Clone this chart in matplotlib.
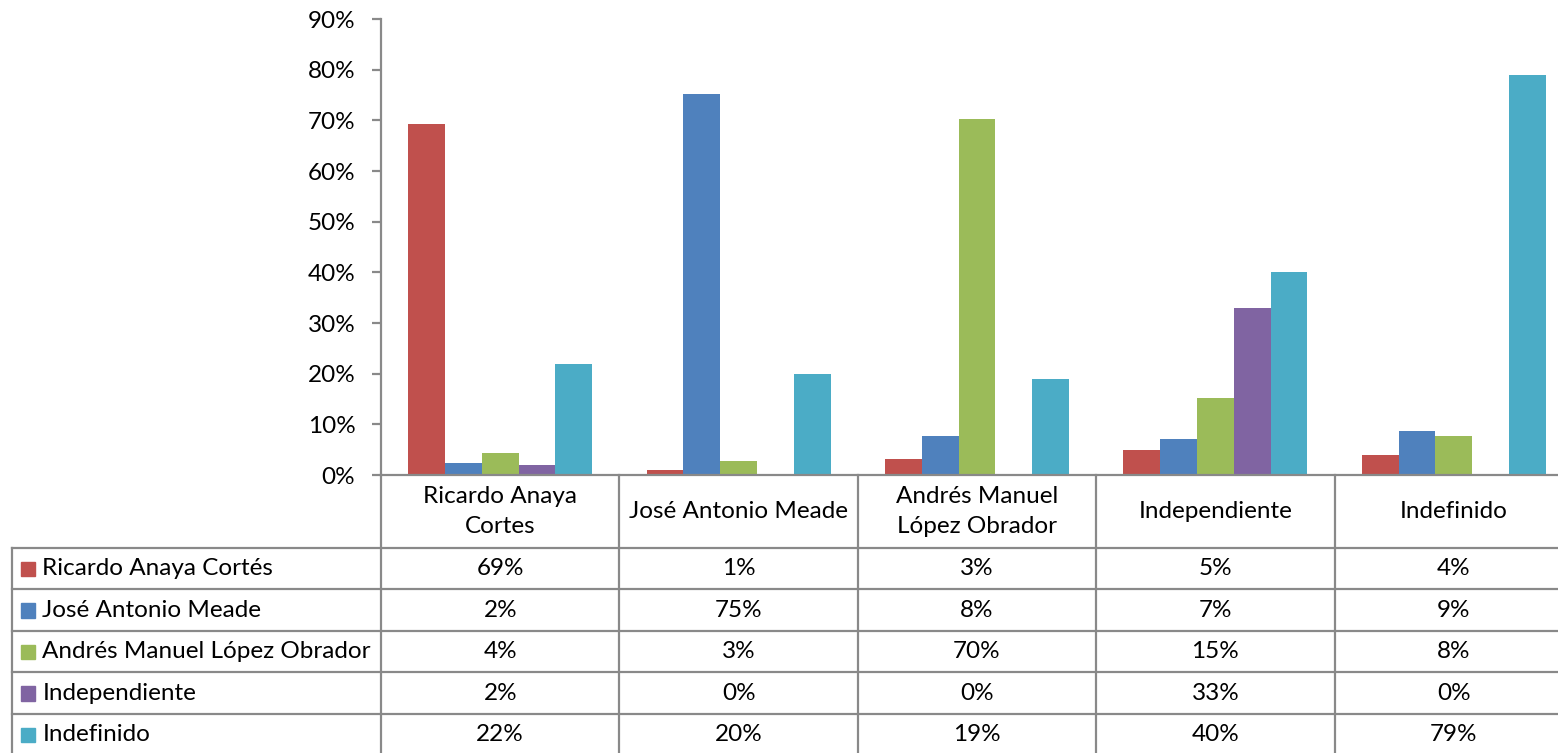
import matplotlib
matplotlib.use("Agg")
import matplotlib.pyplot as plt
import matplotlib.transforms as mtransforms
import numpy as np

plt.rcParams['font.family'] = ['Lato', 'DejaVu Sans']

categories = ["Ricardo Anaya\nCortes", "José Antonio Meade", "Andrés Manuel\nLópez Obrador",
              "Independiente", "Indefinido"]
series = ["Ricardo Anaya Cortés", "José Antonio Meade", "Andrés Manuel López Obrador",
          "Independiente", "Indefinido"]
colors = ["#C0504D", "#4F81BD", "#9BBB59", "#8064A2", "#4BACC6"]

anaya = [69.3, 1.0, 3.2, 4.9, 3.9]
meade = [2.3, 75.2, 7.6, 7.1, 8.6]
amlo = [4.3, 2.8, 70.3, 15.2, 7.7]
independiente = [2.0, 0.0, 0.0, 33.0, 0.0]
indefinido = [21.9, 19.9, 18.9, 40.0, 78.9]
values = [anaya, meade, amlo, independiente, indefinido]

W, H = 1558, 753
GRID = "#898989"
fs = 17.5

fig = plt.figure(figsize=(W / 100, H / 100), dpi=100)
group_w = 238.4
ax = fig.add_axes([381 / W, 1 - 475 / H, 5 * group_w / W, (475 - 19) / H])

n = len(series)
bw = 0.1545
x = np.arange(len(categories))
for i, (name, vals) in enumerate(zip(series, values)):
    ax.bar(x + (i - (n - 1) / 2) * bw, np.array(vals) / 100, bw, color=colors[i],
           linewidth=0)

ax.set_xlim(-0.5, len(categories) - 0.5)
ax.set_ylim(0, 0.9)
ax.set_yticks(np.arange(0, 0.91, 0.1))
ax.set_yticklabels([f"{int(round(t * 100))}%" for t in np.arange(0, 0.91, 0.1)], fontsize=fs)
ax.set_xticks([])
for s in ["top", "right"]:
    ax.spines[s].set_visible(False)
for s in ["left", "bottom"]:
    ax.spines[s].set_color(GRID)
    ax.spines[s].set_linewidth(1.6)
ax.tick_params(axis="y", length=6.5, width=1.6, color=GRID, pad=12)

# data table below the plot: x in category units, y in figure pixels
px = mtransforms.Affine2D().scale(1 / W, -1 / H).translate(0, 1) + fig.transFigure
tr = mtransforms.blended_transform_factory(ax.transData, px)

head_top, head_bot = 475, 548
row_h = 41.5
rows_y = [head_bot + row_h * i for i in range(n + 1)]
lk = dict(color=GRID, lw=1.6, clip_on=False)

for k in range(len(categories) + 1):
    fig.add_artist(plt.Line2D([k - 0.5, k - 0.5], [head_top, H + 5], transform=tr, **lk))
fig.add_artist(plt.Line2D([12.5, 12.5], [head_bot, H + 5], transform=px, **lk))
for y in rows_y:
    fig.add_artist(plt.Line2D([12.5, W + 5], [y, y], transform=px, **lk))

for j, cat in enumerate(categories):
    fig.text(j, (head_top + head_bot) / 2, cat, transform=tr, ha="center", va="center",
             fontsize=fs, linespacing=1.55)

for i, (name, vals) in enumerate(zip(series, values)):
    yc = rows_y[i] + row_h / 2
    fig.add_artist(plt.Rectangle((21, yc - 7), 14.5, 14.5, transform=px, color=colors[i]))
    fig.text(42.5, yc, name, transform=px, ha="left", va="center", fontsize=fs)
    for j, v in enumerate(vals):
        fig.text(j, yc, f"{v:.0f}%", transform=tr, ha="center", va="center", fontsize=fs)

fig.savefig("out.png", dpi=100)
